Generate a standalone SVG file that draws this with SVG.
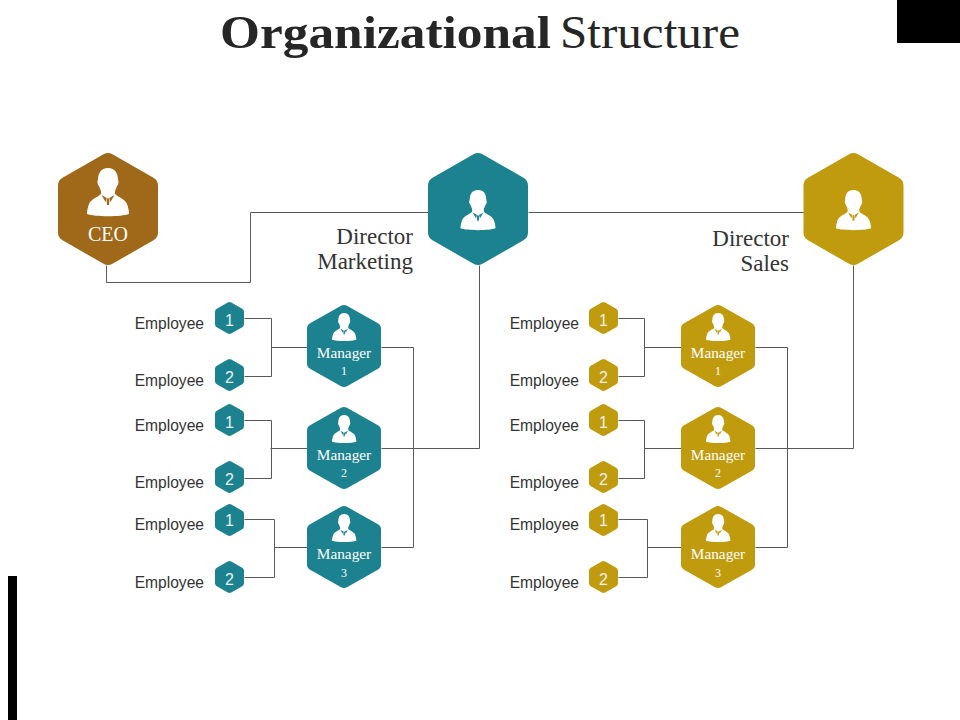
<svg xmlns="http://www.w3.org/2000/svg" width="960" height="720" viewBox="0 0 960 720">
<style>
.brown{fill:#a0691a;stroke:#a0691a}
.teal{fill:#1c828f;stroke:#1c828f}
.gold{fill:#c19b0e;stroke:#c19b0e}
.hexl{stroke-width:18;stroke-linejoin:round}
.hexm{stroke-width:12;stroke-linejoin:round}
.hexs{stroke-width:7;stroke-linejoin:round}
.wire{fill:none;stroke:#595959;stroke-width:1}
.person{fill:#fff;fill-rule:evenodd}
.title{font-family:"Liberation Serif","DejaVu Serif",serif;fill:#262626}
.dir{font-family:"Liberation Serif","DejaVu Serif",serif;font-size:23px;fill:#333;text-anchor:end}
.mgr{font-family:"Liberation Serif","DejaVu Serif",serif;font-size:15.300px;fill:#fff;text-anchor:middle}
.mgrn{font-family:"Liberation Serif","DejaVu Serif",serif;font-size:12px;fill:#fff;text-anchor:middle}
.emp{font-family:"Liberation Sans",Arial,sans-serif;font-size:15.600px;fill:#333;text-anchor:end}
.num{font-family:"Liberation Sans",Arial,sans-serif;font-size:16px;fill:#e8f0f0;text-anchor:middle}
</style>
<defs>
<polygon id="hl" points="0,-47 41,-23.500 41,23.500 0,47 -41,23.500 -41,-23.500"/>
<polygon id="hm" points="0,-35 31,-17.500 31,17.500 0,35 -31,17.500 -31,-17.500"/>
<polygon id="hs" points="0,-12.500 11,-6.250 11,6.250 0,12.500 -11,6.250 -11,-6.250"/>
<path id="p" class="person" d="M21 0C28 0 31 5 31 12C32 13 31.500 17 30 18C29 21 28 22 28 24L28 26C31 29 38 31 40 36C41 39 42 42 42 46C34 49 8 49 0 46C0 42 1 39 2 36C4 31 11 29 14 26L14 24C14 22 13 21 12 18C10.500 17 10 13 11 12C11 5 14 0 21 0ZM14.500 27L18.500 34L19.800 30ZM27.500 27L23.500 34L22.200 30ZM21 29.500L19.600 32L20 37L22 37L22.400 32Z"/>
</defs>
<rect id="corner-top" x="897" y="0" width="63" height="43" fill="#000"/>
<rect id="corner-bottom" x="8" y="576" width="9" height="144" fill="#000"/>
<g id="title">
<text class="title" x="220" y="48" font-size="46" font-weight="700" textLength="331" lengthAdjust="spacingAndGlyphs">Organizational</text>
<text class="title" x="560" y="48" font-size="46" textLength="180" lengthAdjust="spacingAndGlyphs">Structure</text>
</g>
<g id="connectors" class="wire" transform="translate(.5 .5)">
<path d="M106 265V282H250V212H428"/>
<path d="M528 212H804"/>
<path d="M479 265V448H381"/>
<path d="M381 347H413V547H381"/>
<path d="M244 318H271V376H244M271 347H307"/>
<path d="M244 420H271V478H244M270 448H307"/>
<path d="M244 519H274V577H244M274 547H307"/>
<path d="M853 265V448H755"/>
<path d="M755 347H787V547H755"/>
<path d="M618 318H644V376H618M644 347H681"/>
<path d="M618 420H644V478H618M644 448H681"/>
<path d="M618 519H647V577H618M647 547H681"/>
</g>
<g id="ceo" transform="translate(108 209)"><use href="#hl" class="brown hexl"/><use href="#p" transform="translate(-21 -41)"/><text x="0" y="32" font-family="Liberation Serif,serif" font-size="20" fill="#fff" text-anchor="middle">CEO</text></g>
<g id="director-marketing"><g transform="translate(478 209)"><use href="#hl" class="teal hexl"/><use href="#p" transform="translate(-17.500 -19) scale(.833)"/></g><text class="dir" x="413" y="244">Director</text><text class="dir" x="413" y="269">Marketing</text></g>
<g id="director-sales"><g transform="translate(853.500 209)"><use href="#hl" class="gold hexl"/><use href="#p" transform="translate(-17.500 -19) scale(.833)"/></g><text class="dir" x="789" y="246">Director</text><text class="dir" x="789" y="271">Sales</text></g>
<g id="m-manager-1" transform="translate(344 346)"><use href="#hm" class="teal hexm"/><use href="#p" transform="translate(-12 -33) scale(.58)"/><text class="mgr" y="12">Manager</text><text class="mgrn" y="29">1</text></g>
<g id="m-manager-2" transform="translate(344 448)"><use href="#hm" class="teal hexm"/><use href="#p" transform="translate(-12 -33) scale(.58)"/><text class="mgr" y="12">Manager</text><text class="mgrn" y="29">2</text></g>
<g id="m-manager-3" transform="translate(344 547)"><use href="#hm" class="teal hexm"/><use href="#p" transform="translate(-12 -33) scale(.58)"/><text class="mgr" y="12">Manager</text><text class="mgrn" y="30">3</text></g>
<g id="s-manager-1" transform="translate(718 346)"><use href="#hm" class="gold hexm"/><use href="#p" transform="translate(-12 -33) scale(.58)"/><text class="mgr" y="12">Manager</text><text class="mgrn" y="29">1</text></g>
<g id="s-manager-2" transform="translate(718 448)"><use href="#hm" class="gold hexm"/><use href="#p" transform="translate(-12 -33) scale(.58)"/><text class="mgr" y="12">Manager</text><text class="mgrn" y="29">2</text></g>
<g id="s-manager-3" transform="translate(718 547)"><use href="#hm" class="gold hexm"/><use href="#p" transform="translate(-12 -33) scale(.58)"/><text class="mgr" y="12">Manager</text><text class="mgrn" y="30">3</text></g>
<g id="m-e1"><use href="#hs" x="229.500" y="318" class="teal hexs"/><text class="num" x="229.500" y="326">1</text><text class="emp" x="204" y="329">Employee</text></g>
<g id="m-e2"><use href="#hs" x="229.500" y="375" class="teal hexs"/><text class="num" x="229.500" y="383">2</text><text class="emp" x="204" y="386">Employee</text></g>
<g id="m-e3"><use href="#hs" x="229.500" y="420" class="teal hexs"/><text class="num" x="229.500" y="428">1</text><text class="emp" x="204" y="431">Employee</text></g>
<g id="m-e4"><use href="#hs" x="229.500" y="477" class="teal hexs"/><text class="num" x="229.500" y="485">2</text><text class="emp" x="204" y="488">Employee</text></g>
<g id="m-e5"><use href="#hs" x="229.500" y="520" class="teal hexs"/><text class="num" x="229.500" y="526">1</text><text class="emp" x="204" y="530">Employee</text></g>
<g id="m-e6"><use href="#hs" x="229.500" y="577" class="teal hexs"/><text class="num" x="229.500" y="585">2</text><text class="emp" x="204" y="588">Employee</text></g>
<g id="s-e1"><use href="#hs" x="603.500" y="318" class="gold hexs"/><text class="num" x="603.500" y="326">1</text><text class="emp" x="579" y="329">Employee</text></g>
<g id="s-e2"><use href="#hs" x="603.500" y="375" class="gold hexs"/><text class="num" x="603.500" y="383">2</text><text class="emp" x="579" y="386">Employee</text></g>
<g id="s-e3"><use href="#hs" x="603.500" y="420" class="gold hexs"/><text class="num" x="603.500" y="428">1</text><text class="emp" x="579" y="431">Employee</text></g>
<g id="s-e4"><use href="#hs" x="603.500" y="477" class="gold hexs"/><text class="num" x="603.500" y="485">2</text><text class="emp" x="579" y="488">Employee</text></g>
<g id="s-e5"><use href="#hs" x="603.500" y="520" class="gold hexs"/><text class="num" x="603.500" y="526">1</text><text class="emp" x="579" y="530">Employee</text></g>
<g id="s-e6"><use href="#hs" x="603.500" y="577" class="gold hexs"/><text class="num" x="603.500" y="585">2</text><text class="emp" x="579" y="588">Employee</text></g>
</svg>
